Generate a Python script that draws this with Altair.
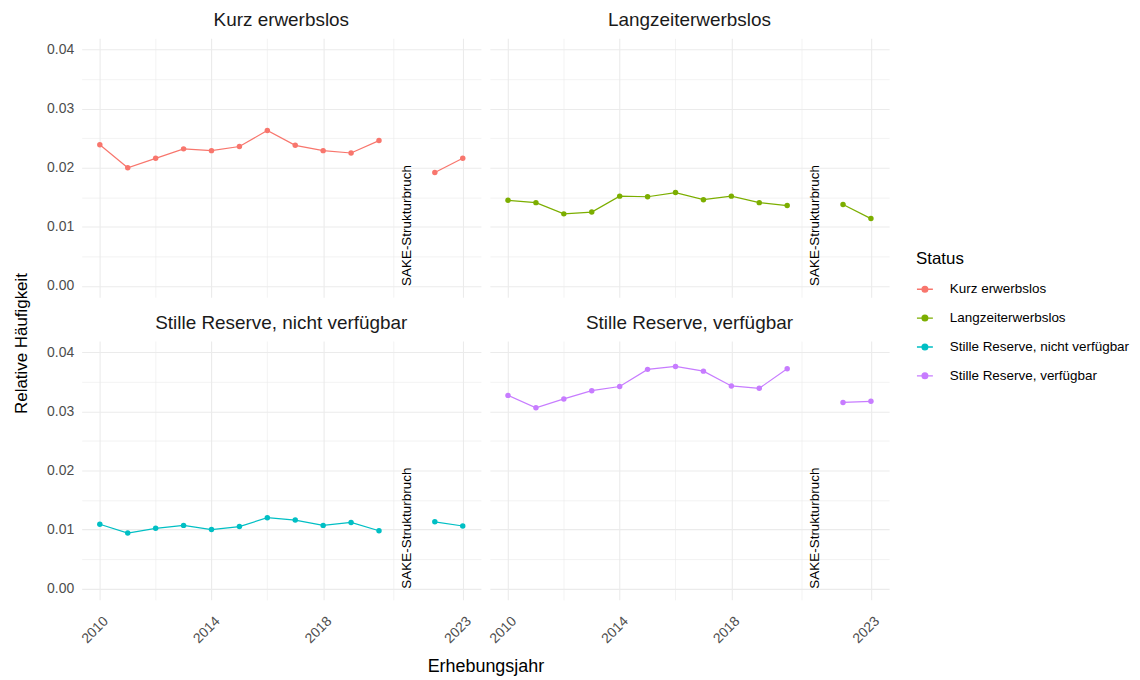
import altair as alt
import pandas as pd

statuses = ["Kurz erwerbslos", "Langzeiterwerbslos",
            "Stille Reserve, nicht verfügbar", "Stille Reserve, verfügbar"]
colors = ["#F8766D", "#7CAE00", "#00BFC4", "#C77CFF"]

years_before = [2010, 2011, 2012, 2013, 2014, 2015, 2016, 2017, 2018, 2019, 2020]
years_after = [2022, 2023]

kurz_before = [0.0239, 0.0200, 0.0216, 0.0232, 0.0229, 0.0236, 0.0263, 0.0238, 0.0229, 0.0225, 0.0246]
kurz_after = [0.0192, 0.0216]
lang_before = [0.0145, 0.0141, 0.0122, 0.0125, 0.0152, 0.0151, 0.0158, 0.0146, 0.0152, 0.0141, 0.0136]
lang_after = [0.0138, 0.0114]
snv_before = [0.0109, 0.0094, 0.0102, 0.0107, 0.0100, 0.0105, 0.0120, 0.0116, 0.0107, 0.0112, 0.0098]
snv_after = [0.0113, 0.0106]
sv_before = [0.0327, 0.0306, 0.0321, 0.0335, 0.0342, 0.0371, 0.0376, 0.0368, 0.0343, 0.0339, 0.0372]
sv_after = [0.0315, 0.0317]

break_year = 2021
break_label = "SAKE-Strukturbruch"

x_major = [2010, 2014, 2018, 2023]
x_grid = [2010, 2012, 2014, 2016, 2018, 2020.5, 2023]
y_grid = [0, 0.005, 0.01, 0.015, 0.02, 0.025, 0.03, 0.035, 0.04]

series = {
    statuses[0]: (kurz_before, kurz_after),
    statuses[1]: (lang_before, lang_after),
    statuses[2]: (snv_before, snv_after),
    statuses[3]: (sv_before, sv_after),
}

rows = []
for s, (b, a) in series.items():
    for y, v in zip(years_before, b):
        rows.append({"Status": s, "Jahr": y, "Wert": v, "Segment": "vor", "kind": "data", "Label": ""})
    for y, v in zip(years_after, a):
        rows.append({"Status": s, "Jahr": y, "Wert": v, "Segment": "nach", "kind": "data", "Label": ""})
    rows.append({"Status": s, "Jahr": break_year, "Wert": 0.0, "Segment": "", "kind": "note", "Label": break_label})
df = pd.DataFrame(rows)

FONT = "Liberation Sans"
major_test = " || ".join(f"datum.value == {v}" for v in x_major)

x_enc = alt.X(
    "Jahr:Q",
    title=None,
    scale=alt.Scale(domain=[2009.35, 2023.65], nice=False, zero=False),
    axis=alt.Axis(
        values=x_grid,
        labelExpr=f"({major_test}) ? format(datum.value, 'd') : ''",
        labelAngle=-45, labelAlign="right", labelBaseline="top",
        labelPadding=14, labelOffset=1,
        gridWidth={"condition": {"test": f"!({major_test})", "value": 0.6}, "value": 1.1},
    ),
)
y_enc = alt.Y(
    "Wert:Q",
    title=None,
    scale=alt.Scale(domain=[-0.0019, 0.0419], nice=False, zero=False),
    axis=alt.Axis(
        values=y_grid,
        labelExpr="round(datum.value*1000) % 10 == 0 ? format(datum.value, '.2f') : ''",
        gridWidth={"condition": {"test": "round(datum.value*1000) % 10 != 0", "value": 0.6}, "value": 1.1},
        labelPadding=8,
    ),
)
color_scale = alt.Scale(domain=statuses, range=colors)

symbol_path = "M-1,0 H1 M-0.36,0 A0.36,0.36 0 1,1 0.36,0 A0.36,0.36 0 1,1 -0.36,0 Z"

legend = alt.Legend(
    orient="none", legendX=838, legendY=214,
    symbolType=symbol_path, symbolSize=256, symbolStrokeWidth=1.3,
    symbolOpacity=1,
    titleFontSize=17, titleFont=FONT, titleFontWeight="normal", titleColor="#000000",
    titlePadding=12,
    labelFontSize=13.5, labelFont=FONT, labelColor="#000000", labelLimit=400,
    rowPadding=13, labelOffset=16,
)
color_enc = alt.Color("Status:N", scale=color_scale, title="Status", legend=legend)

line = alt.Chart().mark_line(strokeWidth=1.2).encode(
    x=x_enc, y=y_enc,
    color=color_enc,
    detail="Segment:N",
    order="Jahr:Q",
).transform_filter("datum.kind == 'data'")

points = alt.Chart().mark_point(filled=True, size=30, opacity=1).encode(
    x=x_enc, y=y_enc,
    color=color_enc,
).transform_filter("datum.kind == 'data'")

note = alt.Chart().mark_text(
    angle=270, align="left", baseline="middle", fontSize=13.5, font=FONT, color="#000000"
).encode(
    x=x_enc, y=y_enc, text="Label:N"
).transform_filter("datum.kind == 'note'")

chart = alt.layer(line, points, note, data=df).properties(
    width=401, height=260
).facet(
    facet=alt.Facet(
        "Status:N", title="Erhebungsjahr", sort=statuses,
        header=alt.Header(
            labelOrient="top", labelFontSize=19, labelFont=FONT, labelColor="#1A1A1A", labelPadding=8,
            titleOrient="bottom", titleFontSize=18, titleFont=FONT, titleFontWeight="normal",
            titleColor="#000000", titlePadding=12,
        ),
    ),
    columns=2,
    spacing={"row": 17, "column": 9},
).properties(
    title=alt.TitleParams(
        "Relative Häufigkeit", orient="left", anchor="middle",
        fontSize=17, font=FONT, fontWeight="normal", color="#000000", offset=16,
    ),
    padding={"left": 4, "top": 2, "right": 2, "bottom": 0},
).configure_view(
    stroke=None
).configure_axis(
    domain=False, ticks=False,
    gridColor="#EBEBEB",
    labelFont=FONT, labelFontSize=14, labelColor="#4D4D4D",
)

chart.save("out.html", embed_options={"renderer": "svg", "actions": False})
